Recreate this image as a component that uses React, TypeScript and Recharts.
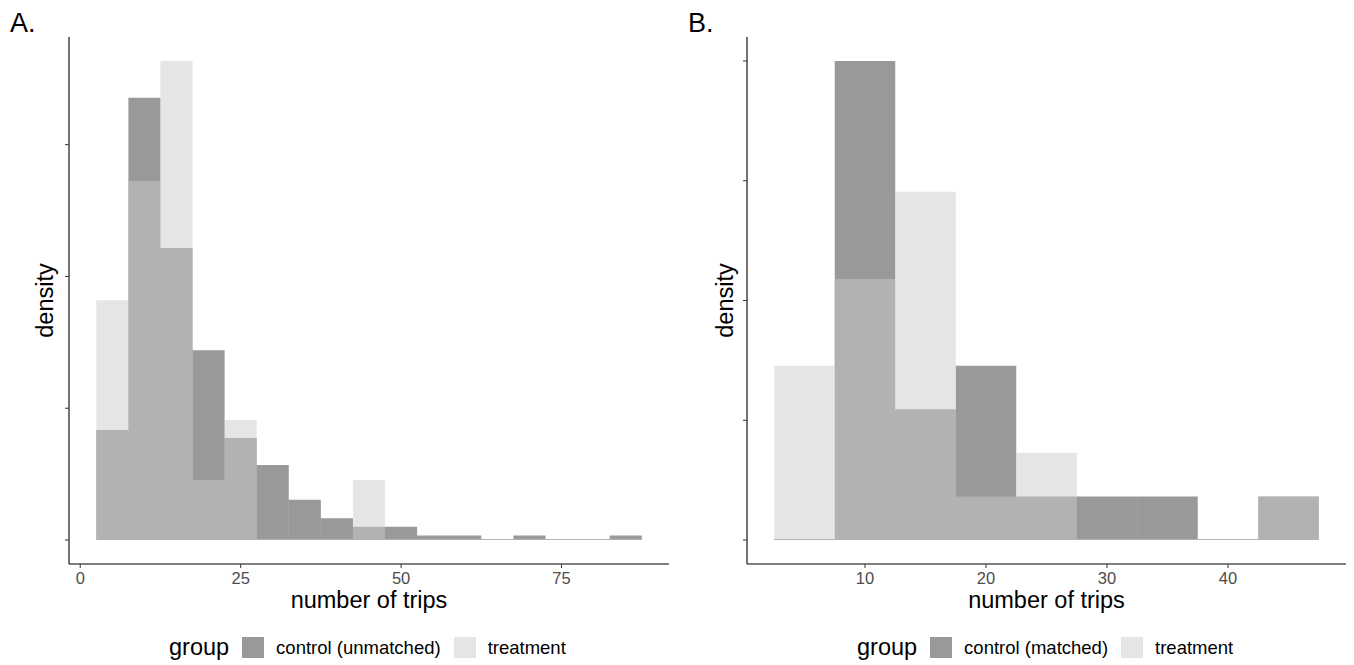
import { BarChart, Bar, XAxis, YAxis } from 'recharts'

const FONT = '"Liberation Sans", Arial, Helvetica, sans-serif'
const CONTROL = '#333333'
const TREATMENT = '#cbcbcb'
const ALPHA = 0.5
const BIN_WIDTH = 5

const CHART_W = 677
const CHART_H = 614
const TOP = 37
const RIGHT = 8

// A: treatment vs. all (unmatched) controls, density per 5-trip bin
const binsA = [5, 10, 15, 20, 25, 30, 35, 40, 45, 50, 55, 60, 65, 70, 75, 80, 85]
const controlA = [
  0.0167, 0.0671, 0.0443, 0.0288, 0.0155, 0.0114, 0.0061, 0.0033, 0.002, 0.002,
  0.0007, 0.0007, 0, 0.0007, 0, 0, 0.0007,
]
const treatmentA = [
  0.0364, 0.0545, 0.0727, 0.0091, 0.0182, 0, 0, 0, 0.0091, 0, 0, 0, 0, 0, 0, 0, 0,
]
const tripTicksA = [0, 25, 50, 75]
const densityTicksA = [0, 0.02, 0.04, 0.06]

// B: treatment vs. matched controls
const binsB = [5, 10, 15, 20, 25, 30, 35, 40, 45]
const controlB = [0, 0.1, 0.0273, 0.0364, 0.0091, 0.0091, 0.0091, 0, 0.0091]
const treatmentB = [0.0364, 0.0545, 0.0727, 0.0091, 0.0182, 0, 0, 0, 0.0091]
const tripTicksB = [10, 20, 30, 40]
const densityTicksB = [0, 0.025, 0.05, 0.075, 0.1]

type HistProps = {
  bins: number[]
  control: number[]
  treatment: number[]
  xTicks: number[]
  yTicks: number[]
  axisWidth: number
  titleOffset: number
}

function Histogram({ bins, control, treatment, xTicks, yTicks, axisWidth, titleOffset }: HistProps) {
  const data = bins.map((mid, i) => ({ mid, control: control[i], treatment: treatment[i] }))

  // ggplot-style 5% expansion on both scales
  const lo = bins[0] - BIN_WIDTH / 2
  const hi = bins[bins.length - 1] + BIN_WIDTH / 2
  const padX = (hi - lo) * 0.05
  const xDomain: [number, number] = [lo - padX, hi + padX]
  const yMax = Math.max(...control, ...treatment)
  const yDomain: [number, number] = [-yMax * 0.05, yMax * 1.05]

  const plotW = CHART_W - axisWidth - RIGHT
  const edge = (plotW * padX) / (xDomain[1] - xDomain[0])
  // a hair under the band so recharts doesn't floor it and leave seams
  const barWidth = (plotW - 2 * edge) / bins.length - 0.001

  return (
    <BarChart
      width={CHART_W}
      height={CHART_H}
      data={data}
      margin={{ top: TOP, right: RIGHT, bottom: 0, left: 0 }}
      barCategoryGap={0}
      barGap="-100%"
      barSize={barWidth}
    >
      {/* bins as bands; the continuous trips axis below is what gets drawn */}
      <XAxis xAxisId="bin" dataKey="mid" hide height={0} padding={{ left: edge, right: edge }} />
      <XAxis
        xAxisId="trips"
        dataKey="mid"
        type="number"
        domain={xDomain}
        ticks={xTicks}
        allowDataOverflow
        interval={0}
        height={50}
        tickSize={4}
        tickMargin={4}
        axisLine={{ stroke: '#000', strokeWidth: 1.1 }}
        tickLine={{ stroke: '#333' }}
        tick={{ fill: '#4d4d4d', fontSize: 16.5 }}
        label={{
          value: 'number of trips',
          position: 'insideBottom',
          offset: 6,
          style: { fontSize: 23.5, fill: '#000' },
        }}
      />
      <YAxis
        type="number"
        domain={yDomain}
        ticks={yTicks}
        allowDataOverflow
        width={axisWidth}
        tickSize={4}
        tickFormatter={() => ''}
        axisLine={{ stroke: '#000', strokeWidth: 1.1 }}
        tickLine={{ stroke: '#333' }}
        label={{
          value: 'density',
          angle: -90,
          position: 'insideLeft',
          offset: titleOffset,
          style: { textAnchor: 'middle', fontSize: 23.5, fill: '#000' },
        }}
      />
      <Bar
        xAxisId="bin"
        dataKey="control"
        fill={CONTROL}
        fillOpacity={ALPHA}
        minPointSize={1}
        isAnimationActive={false}
      />
      <Bar
        xAxisId="bin"
        dataKey="treatment"
        fill={TREATMENT}
        fillOpacity={ALPHA}
        minPointSize={1}
        isAnimationActive={false}
      />
    </BarChart>
  )
}

function Swatch({ color }: { color: string }) {
  return (
    <span style={{ display: 'inline-block', width: 22, height: 21, background: '#fff' }}>
      <span style={{ display: 'block', width: '100%', height: '100%', background: color, opacity: ALPHA }} />
    </span>
  )
}

function GroupLegend({ left, controlLabel }: { left: number; controlLabel: string }) {
  return (
    <div
      style={{
        position: 'absolute',
        left,
        top: 637,
        height: 21,
        display: 'flex',
        alignItems: 'center',
        whiteSpace: 'nowrap',
      }}
    >
      <span style={{ fontSize: 23.5, marginRight: 13 }}>group</span>
      <Swatch color={CONTROL} />
      <span style={{ fontSize: 18.5, marginLeft: 12, marginRight: 13 }}>{controlLabel}</span>
      <Swatch color={TREATMENT} />
      <span style={{ fontSize: 18.5, marginLeft: 12 }}>treatment</span>
    </div>
  )
}

const tagStyle = {
  position: 'absolute' as const,
  top: 10,
  fontSize: 27,
  lineHeight: 1,
}

export default function App() {
  return (
    <div
      style={{
        position: 'absolute',
        left: 0,
        top: 0,
        width: 1354,
        height: 665,
        background: '#fff',
        fontFamily: FONT,
        color: '#000',
      }}
    >
      <div style={{ position: 'absolute', left: 0, top: 0 }}>
        <Histogram
          bins={binsA}
          control={controlA}
          treatment={treatmentA}
          xTicks={tripTicksA}
          yTicks={densityTicksA}
          axisWidth={69}
          titleOffset={45}
        />
      </div>
      <div style={{ position: 'absolute', left: CHART_W, top: 0 }}>
        <Histogram
          bins={binsB}
          control={controlB}
          treatment={treatmentB}
          xTicks={tripTicksB}
          yTicks={densityTicksB}
          axisWidth={70}
          titleOffset={48}
        />
      </div>
      <div style={{ ...tagStyle, left: 10 }}>A.</div>
      <div style={{ ...tagStyle, left: 688 }}>B.</div>
      <GroupLegend left={169} controlLabel="control (unmatched)" />
      <GroupLegend left={857} controlLabel="control (matched)" />
    </div>
  )
}
